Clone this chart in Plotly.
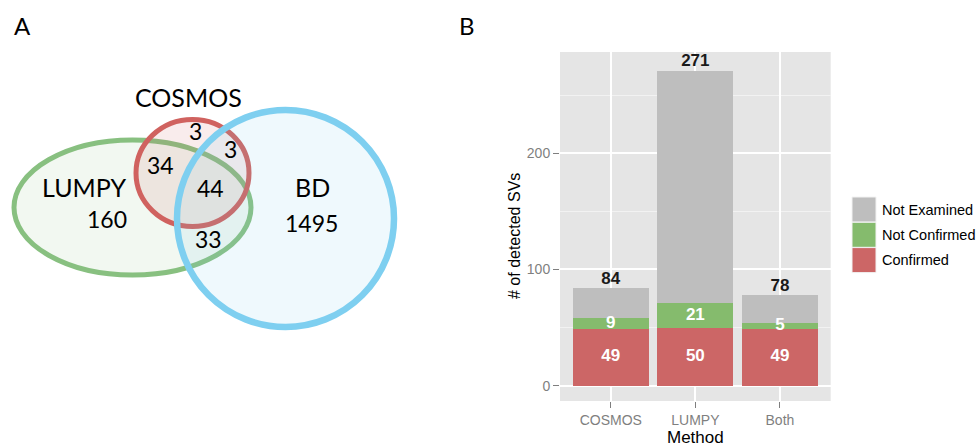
import plotly.graph_objects as go

# ---------------- Panel B data ----------------
methods = ["COSMOS", "LUMPY", "Both"]
confirmed = [49, 50, 49]
not_confirmed = [9, 21, 5]
not_examined = [26, 200, 24]
totals = [84, 271, 78]
y_ticks = [0, 100, 200]
status_names = ["Not Examined", "Not Confirmed", "Confirmed"]

# ---------------- Panel A data ----------------
set_names = ["LUMPY", "COSMOS", "BD"]
lumpy_only = 160
bd_only = 1495
cosmos_only = 3
cosmos_bd = 3
cosmos_lumpy = 34
all_three = 44
lumpy_bd = 33

W, H = 980, 446
RED = "#CC6666"
GREEN = "#85BB6D"
GREY = "#BEBEBE"
VENN_FONT = "Lato"
GG_FONT = "Liberation Sans"


def px(x):
    return x / W


def py(y):
    return 1 - y / H


fig = go.Figure()

# stacked bars
for name, vals, col in [("Confirmed", confirmed, RED),
                        ("Not Confirmed", not_confirmed, GREEN),
                        ("Not Examined", not_examined, GREY)]:
    fig.add_trace(go.Bar(x=methods, y=vals, name=name, marker=dict(color=col, line=dict(width=0)),
                         width=0.9, showlegend=False, hoverinfo="x+y+name"))

# inner labels
mid_conf = [c / 2 for c in confirmed]
mid_nc = [c + n / 2 for c, n in zip(confirmed, not_confirmed)]
fig.add_trace(go.Scatter(x=methods, y=mid_conf, mode="text", text=[str(v) for v in confirmed],
                         textfont=dict(color="white", size=17, family=GG_FONT, weight="bold"),
                         showlegend=False, hoverinfo="skip"))
fig.add_trace(go.Scatter(x=methods, y=mid_nc, mode="text", text=[str(v) for v in not_confirmed],
                         textfont=dict(color="white", size=17, family=GG_FONT, weight="bold"),
                         showlegend=False, hoverinfo="skip", cliponaxis=False))
fig.add_trace(go.Scatter(x=methods, y=totals, mode="text", text=[str(v) for v in totals],
                         textposition="top center",
                         textfont=dict(color="#1a1a1a", size=17, family=GG_FONT, weight="bold"),
                         showlegend=False, hoverinfo="skip", cliponaxis=False))

shapes = []
annotations = []

# panel B background
shapes.append(dict(type="rect", xref="x domain", yref="y domain", x0=0, x1=1, y0=0, y1=1,
                   fillcolor="#E5E5E5", line=dict(width=0), layer="below"))

# legend (drawn manually to match ggplot key size)
leg_cols = [GREY, GREEN, RED]
for i, (nm, col) in enumerate(zip(status_names, leg_cols)):
    y0 = 197 + i * 25.3
    shapes.append(dict(type="rect", xref="paper", yref="paper",
                       x0=px(852), x1=px(876), y0=py(y0 + 25), y1=py(y0),
                       fillcolor=col, line=dict(color="#F2F2F2", width=1)))
    annotations.append(dict(xref="paper", yref="paper", x=px(880), y=py(y0 + 12.5),
                            text=nm, showarrow=False, xanchor="left", yanchor="middle",
                            font=dict(family=GG_FONT, size=14.5, color="black")))

# axis titles
annotations.append(dict(xref="paper", yref="paper", x=px(695), y=py(437), text="Method",
                        showarrow=False, xanchor="center", yanchor="middle",
                        font=dict(family=GG_FONT, size=17, color="black")))
annotations.append(dict(xref="paper", yref="paper", x=px(514), y=py(236), text="# of detected SVs",
                        showarrow=False, textangle=-90, xanchor="center", yanchor="middle",
                        font=dict(family=GG_FONT, size=16, color="black")))

# panel letters
annotations.append(dict(xref="paper", yref="paper", x=px(22), y=py(25), text="A", showarrow=False,
                        xanchor="center", yanchor="middle", font=dict(family=VENN_FONT, size=24, color="black")))
annotations.append(dict(xref="paper", yref="paper", x=px(467), y=py(25), text="B", showarrow=False,
                        xanchor="center", yanchor="middle", font=dict(family=VENN_FONT, size=24, color="black")))

# ---------------- Venn (panel A) ----------------
venn_shapes = [
    # LUMPY ellipse
    dict(cx=132.5, cy=207.5, rx=118.5, ry=67.5, line="#88C080", fill="rgba(136,192,128,0.11)", w=5),
    # COSMOS circle
    dict(cx=192.5, cy=173.0, rx=56.5, ry=53.5, line="#D0625F", fill="rgba(208,98,95,0.12)", w=5),
    # BD circle
    dict(cx=285.5, cy=218.5, rx=108.5, ry=108.5, line="#7ECFF0", fill="rgba(126,207,240,0.12)", w=6.5),
]
for s in venn_shapes:
    shapes.append(dict(type="circle", xref="x2", yref="y2",
                       x0=s["cx"] - s["rx"], x1=s["cx"] + s["rx"],
                       y0=s["cy"] - s["ry"], y1=s["cy"] + s["ry"],
                       fillcolor=s["fill"], line=dict(color=s["line"], width=s["w"]), layer="above"))

venn_texts = [
    (f"{set_names[0]}", 84, 187, 25),
    (f"{lumpy_only}", 107, 219, 23),
    (f"{set_names[1]}", 188, 97, 25),
    (f"{set_names[2]}", 312, 187, 25),
    (f"{bd_only}", 311, 223, 23),
    (f"{cosmos_only}", 195, 131, 23),
    (f"{cosmos_bd}", 230, 149, 23),
    (f"{cosmos_lumpy}", 160, 165, 23),
    (f"{all_three}", 210, 188, 23),
    (f"{lumpy_bd}", 208, 239, 23),
]
for t, x, y, fs in venn_texts:
    annotations.append(dict(xref="x2", yref="y2", x=x, y=y, text=t, showarrow=False,
                            xanchor="center", yanchor="middle",
                            font=dict(family=VENN_FONT, size=fs, color="black")))

tick_font = dict(family=GG_FONT, size=14, color="#7F7F7F")
fig.update_layout(
    width=W, height=H,
    margin=dict(l=0, r=0, t=0, b=0),
    paper_bgcolor="white", plot_bgcolor="rgba(0,0,0,0)",
    barmode="stack", bargap=0.1,
    showlegend=False,
    shapes=shapes, annotations=annotations,
    xaxis=dict(domain=[px(560), px(830.7)], range=[-0.6, 2.6], type="category",
               showgrid=True, gridcolor="white", gridwidth=1.5,
               ticks="outside", ticklen=6, tickcolor="#7F7F7F", tickwidth=1,
               tickfont=tick_font, zeroline=False, showline=False, fixedrange=True),
    yaxis=dict(domain=[1 - 401 / H, 1 - 52 / H], range=[-13.2, 287],
               tickvals=y_ticks, showgrid=True, gridcolor="white", gridwidth=1.5,
               minor=dict(dtick=50, tick0=0, showgrid=True, gridcolor="#F2F2F2", gridwidth=1, ticks=""),
               ticks="outside", ticklen=6, tickcolor="#7F7F7F", tickwidth=1,
               tickfont=tick_font, zeroline=False, showline=False, fixedrange=True),
    xaxis2=dict(domain=[0, 420 / W], range=[0, 420], visible=False, fixedrange=True, anchor="y2"),
    yaxis2=dict(domain=[0, 1], range=[446, 0], visible=False, fixedrange=True, anchor="x2"),
)
# invisible trace so the x2/y2 axes exist for the Venn shapes
fig.add_trace(go.Scatter(x=[0], y=[0], xaxis="x2", yaxis="y2", mode="markers",
                         marker=dict(opacity=0), showlegend=False, hoverinfo="skip"))

fig.write_html("out.html", config={"displayModeBar": False},
               post_script="document.body.style.margin='0';document.body.style.overflow='hidden';")
